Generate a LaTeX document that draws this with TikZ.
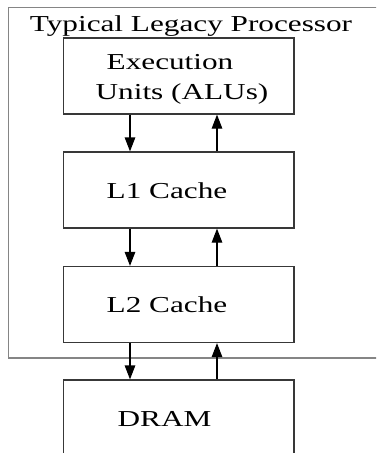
\documentclass[tikz,border=0pt]{standalone}
\usepackage{fontspec}
\setmainfont{Liberation Serif}
\usetikzlibrary{arrows.meta}
\begin{document}
\begin{tikzpicture}[x=1pt,y=-1pt]

    \tikzset{
      unitbox/.style={
        draw=black!78,
        line width=1.2pt,
        minimum width=230.5pt,
        minimum height=76pt,
        inner sep=0pt,
      },
      boxtext/.style={
        anchor=base,
        xscale=1.37,
        inner sep=0pt,
        font=\fontsize{22.8}{27}\selectfont,
      },
      flow/.style={
        line width=1.2pt,
        -{Triangle[length=14pt,width=10.5pt]},
      },
    }
    \useasboundingbox (0,0) rectangle (376,453);
    \clip (0,0) rectangle (376,453);
	\draw [color={black!48},line width=1.3pt] (8.5,7.5) rectangle (382,358);
	\node [boxtext] (title) at (191,31.5) {Typical Legacy Processor};

	\node [unitbox] (exec) at (178.75,76) {};
	\node [unitbox] (l1) at (178.75,190) {};
	\node [unitbox] (l2) at (178.75,304.5) {};
	\node [unitbox] (dram) at (178.75,418) {};

	\node [boxtext] (execa) at (170,69) {Execution};
	\node [boxtext] (execb) at (182,99) {Units (ALUs)};
	\node [boxtext] (l1text) at (167,198) {L1 Cache};
	\node [boxtext] (l2text) at (167,312) {L2 Cache};
	\node [boxtext] (dramtext) at (164.5,426) {DRAM};

	\draw [flow] ([xshift=-48.75pt]exec.south) -- ([xshift=-48.75pt]l1.north);
	\draw [flow] ([xshift=38.25pt]l1.north) -- ([xshift=38.25pt]exec.south);
	\draw [flow] ([xshift=-48.75pt]l1.south) -- ([xshift=-48.75pt]l2.north);
	\draw [flow] ([xshift=38.25pt]l2.north) -- ([xshift=38.25pt]l1.south);
	\draw [flow] ([xshift=-48.75pt]l2.south) -- ([xshift=-48.75pt]dram.north);
	\draw [flow] ([xshift=38.25pt]dram.north) -- ([xshift=38.25pt]l2.south);

\end{tikzpicture}
\end{document}
